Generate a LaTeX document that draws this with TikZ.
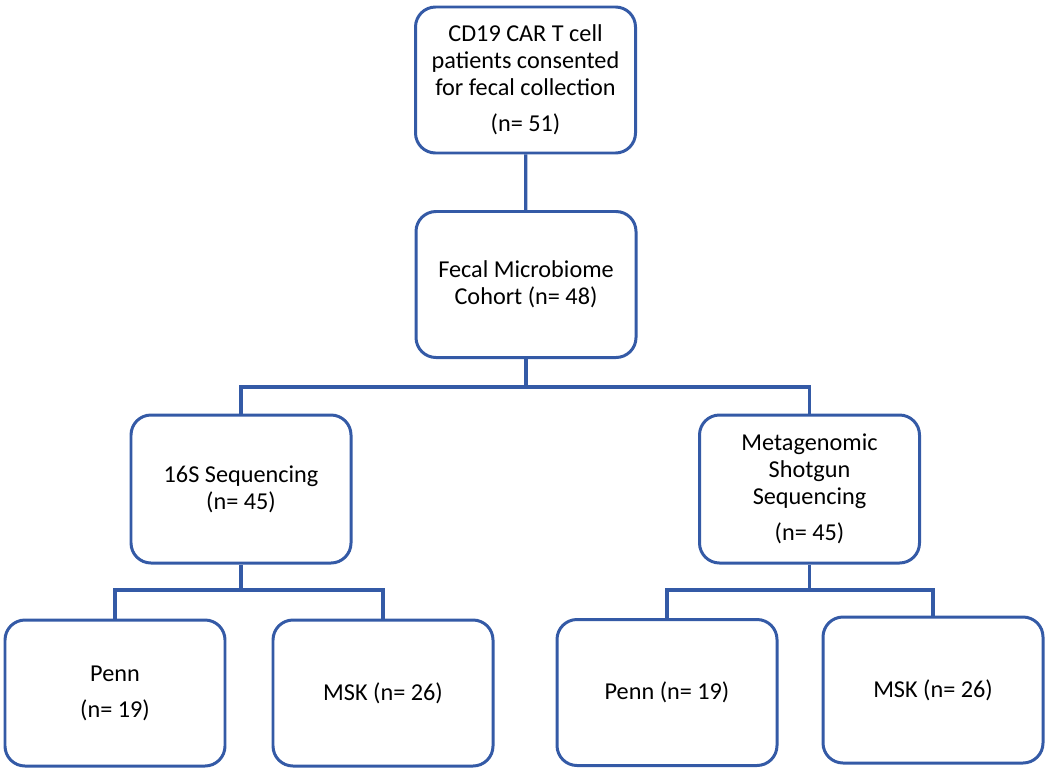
\documentclass[tikz,border=0pt]{standalone}
\usepackage{fontspec}
\setmainfont{Carlito}
\usetikzlibrary{positioning}

\definecolor{boxblue}{RGB}{52,90,166}

\tikzset{
  cohortbox/.style={draw=boxblue, line width=1.7pt, rounded corners=0.4cm, fill=white,
    minimum width=220\unitpx, minimum height=146\unitpx, align=center,
    font=\fontsize{13.8}{15.4}\selectfont, inner sep=2pt},
  branch/.style={draw=boxblue, line width=1.8pt}
}
\newlength{\unitpx}
\setlength{\unitpx}{0.02cm}

\begin{document}
\begin{tikzpicture}[x=0.02cm, y=-0.02cm]
            % Marco
            \useasboundingbox (0,0) rectangle (1050,774);

            % Cajas
            \node[cohortbox] (consent) at (525.5,80) {CD19 CAR T cell\\ patients consented\\ for fecal collection\\[5pt] (n= 51)};
            \node[cohortbox] (fecal) at (526,284.5) {Fecal Microbiome\\ Cohort (n= 48)};
            \node[cohortbox, minimum height=148\unitpx] (seq16) at (241,489) {16S Sequencing\\ (n= 45)};
            \node[cohortbox, minimum height=148\unitpx] (shotgun) at (809.5,489) {Metagenomic\\ Shotgun\\ Sequencing\\[5pt] (n= 45)};
            \node[cohortbox] (penn16) at (115,693) {Penn\\[5pt] (n= 19)};
            \node[cohortbox] (msk16) at (383,693) {MSK (n= 26)};
            \node[cohortbox] (pennmg) at (667,692.5) {Penn (n= 19)};
            \node[cohortbox] (mskmg) at (933,690) {MSK (n= 26)};

            % Puntos de ramificacion
            \coordinate (splitA) at (526,387);
            \coordinate (splitB) at (241,590);
            \coordinate (splitC) at (809.5,590);

            % Lineas
            \draw[branch] (consent) -- (fecal);
            \draw[branch] (fecal) -- (splitA);
            \draw[branch] (splitA) -| (seq16);
            \draw[branch] (splitA) -| (shotgun);
            \draw[branch] (seq16) -- (splitB);
            \draw[branch] (splitB) -| (penn16);
            \draw[branch] (splitB) -| (msk16);
            \draw[branch] (shotgun) -- (splitC);
            \draw[branch] (splitC) -| (pennmg);
            \draw[branch] (splitC) -| (mskmg);
\end{tikzpicture}
\end{document}
